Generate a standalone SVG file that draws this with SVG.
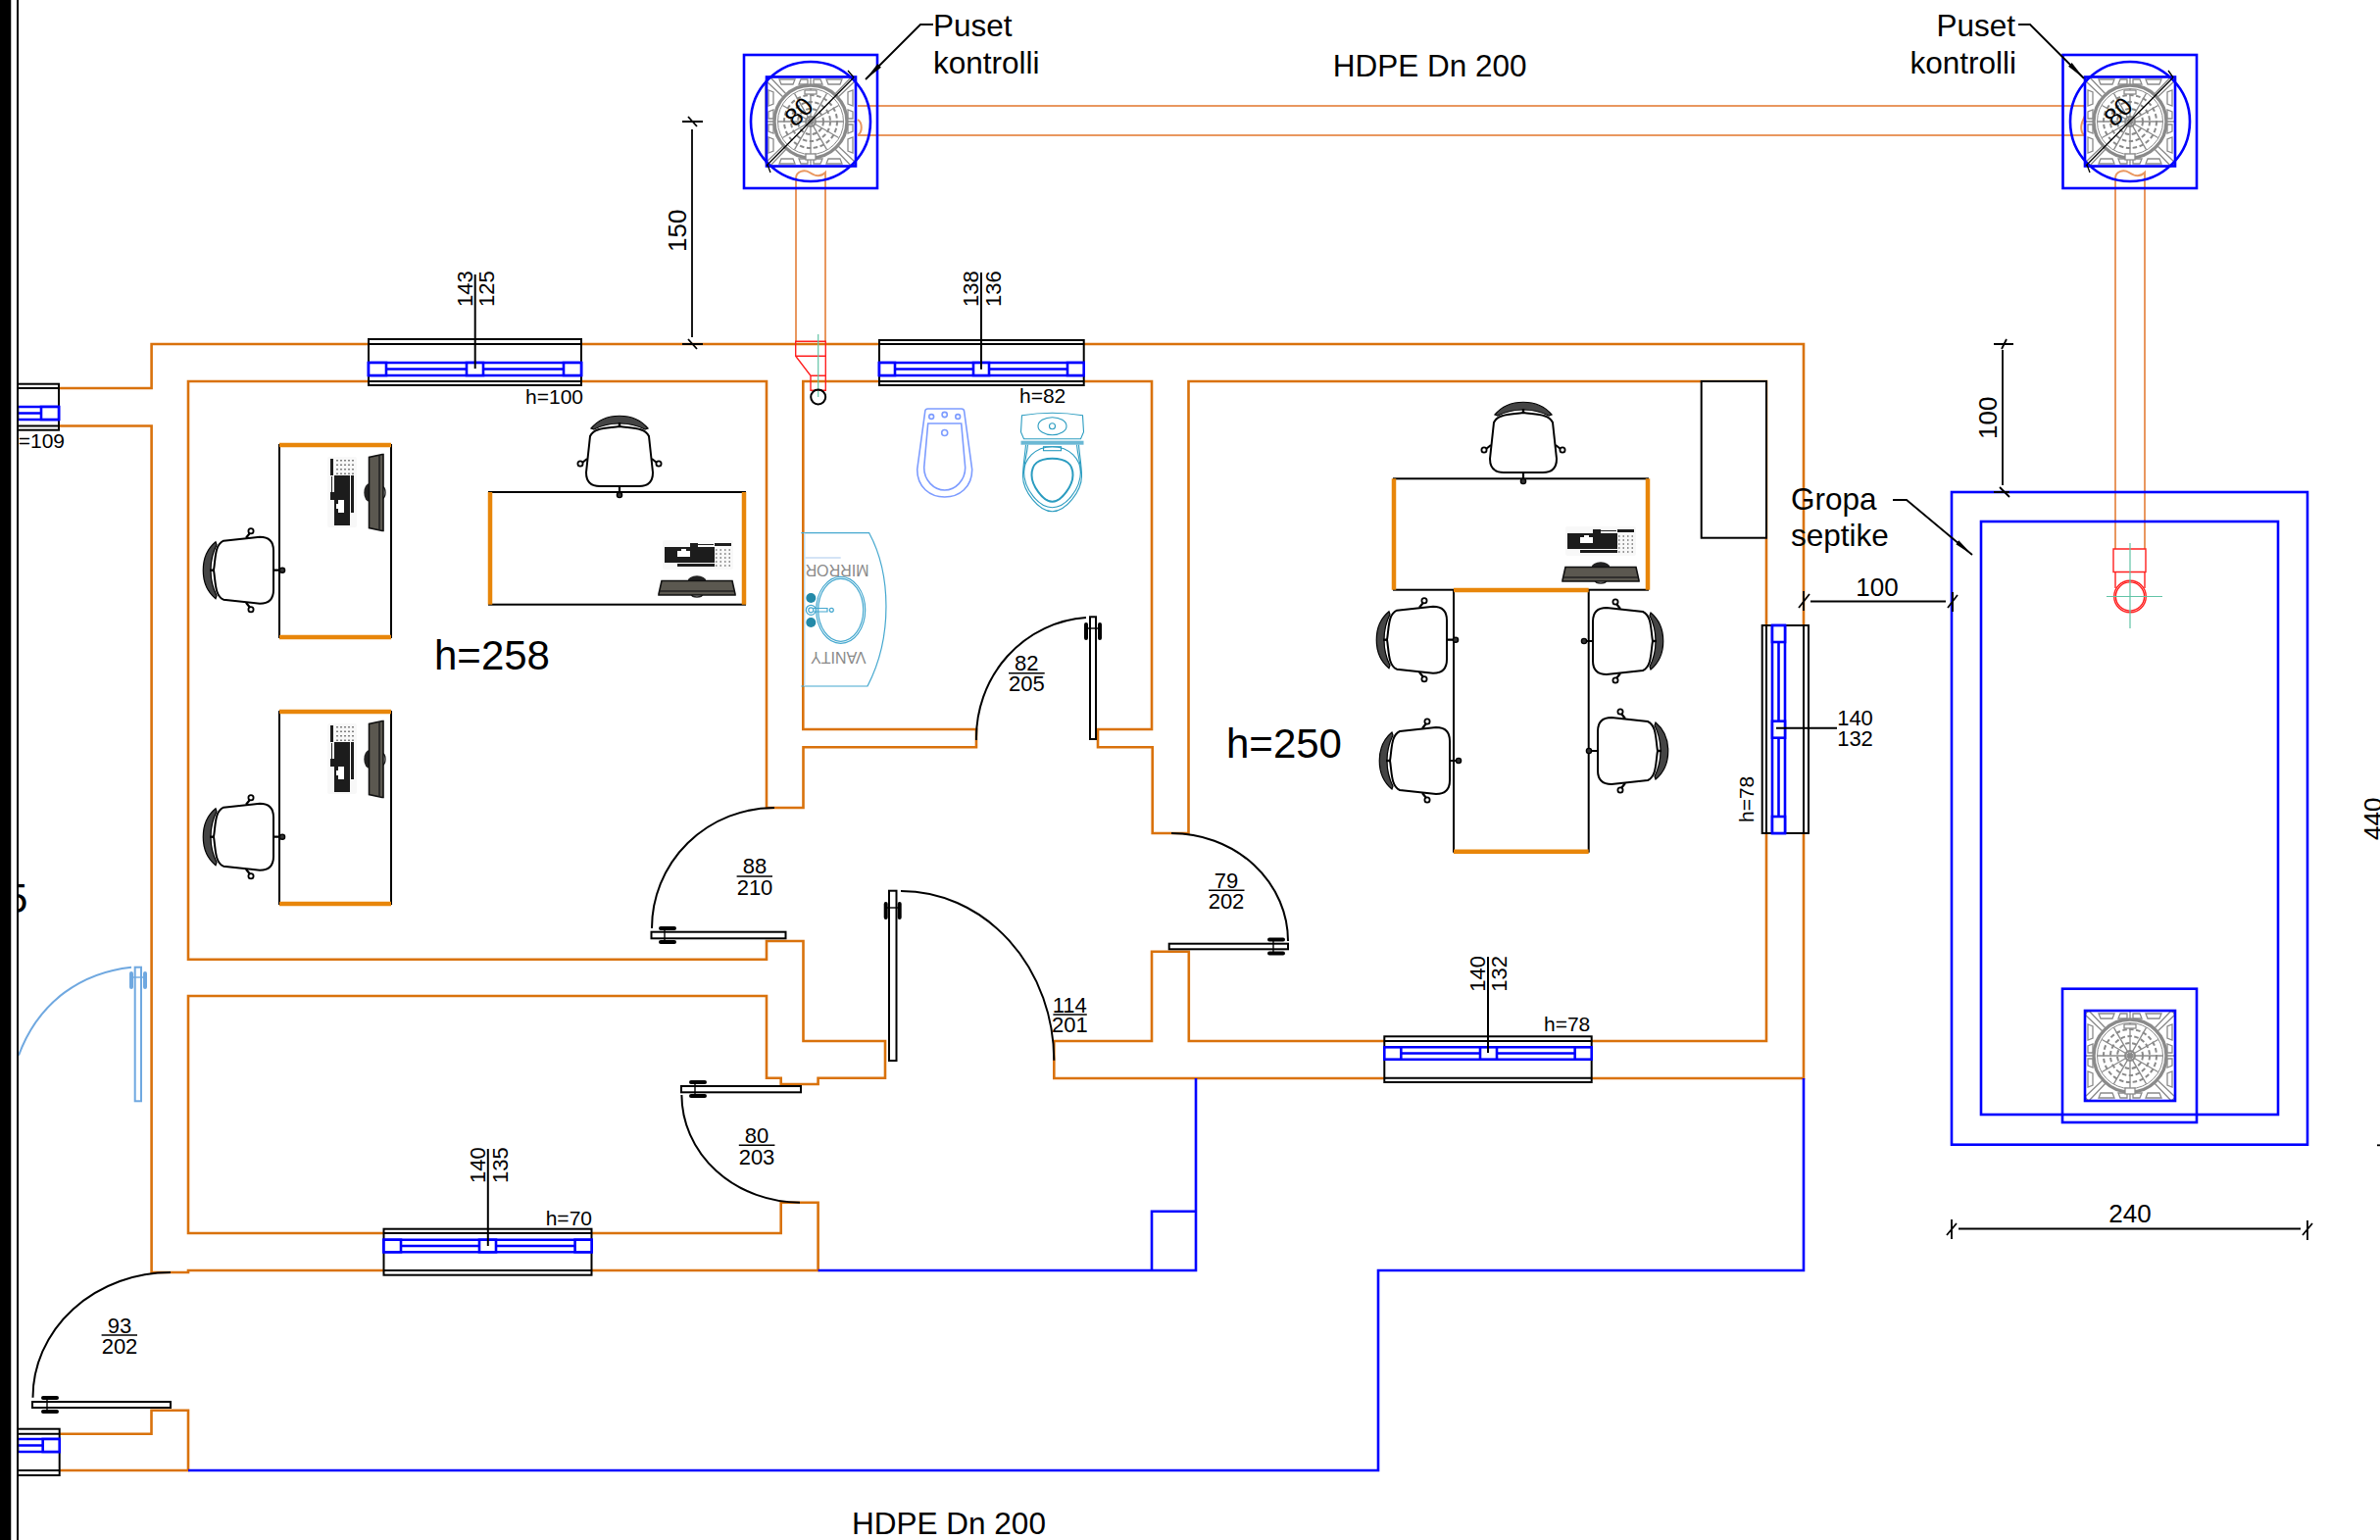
<svg xmlns="http://www.w3.org/2000/svg" width="2428" height="1571" viewBox="0 0 2428 1571">
<style>
text{font-family:"Liberation Sans",Arial,sans-serif;fill:#000}
.s21{font-size:21px}.sd{font-size:22px}.s22{font-size:22px;text-anchor:middle}.s26{font-size:26px}.s31{font-size:31.5px}.s41{font-size:42px}
.wall{fill:none;stroke:#d9720c;stroke-width:2.6}
.bl{fill:none;stroke:#0000ff;stroke-width:2.6}
.blf{fill:#fff;stroke:#0000ff;stroke-width:2.6}
.blk{fill:none;stroke:#000;stroke-width:2}
.frame{fill:#fff;stroke:#000;stroke-width:2}
.pipe{fill:none;stroke:#e9975f;stroke-width:2}
.red{fill:none;stroke:#ff2020;stroke-width:1.4}
.grn{fill:none;stroke:#62c4a6;stroke-width:1.2}
.desk{fill:#fff;stroke:#000;stroke-width:2}
.edge{fill:none;stroke:#e8860a;stroke-width:4.5}
.leaf{fill:#fff;stroke:#000;stroke-width:2}
.frac{fill:none;stroke:#000;stroke-width:1.6}
.dim{fill:none;stroke:#000;stroke-width:1.8}
.diag{fill:none;stroke:#000;stroke-width:1.3}
.bidet{fill:none;stroke:#7d9cff;stroke-width:1.6}
.wc{fill:none;stroke:#2b9cc0;stroke-width:1.1}
.van{fill:none;stroke:#45a8cf;stroke-width:1.2}
.mg{fill:none;stroke:#8a8a8a}
</style>
<defs>
<marker id="arr" markerUnits="userSpaceOnUse" markerWidth="20" markerHeight="8" refX="20" refY="4" orient="auto"><path d="M0,1.5L20,4L0,6.5Z" fill="#000"/></marker>
<g id="chair">
<path d="M-21,-30L16,-34Q30,-34 30,-20L30,20Q30,34 16,34L-21,30C-30,26 -29,12 -31,0C-29,-12 -30,-26 -21,-30Z" fill="#fff" stroke="#000" stroke-width="2"/>
<path d="M-29,-29C-46,-15 -46,15 -29,29L-28,26C-36,10 -36,-10 -28,-26Z" fill="#444" stroke="#000" stroke-width="1.2"/>
<path d="M-31,0H-35" stroke="#000" stroke-width="2.4"/>
<path d="M2,-33L6,-38M2,33L6,38M30,0H37" stroke="#000" stroke-width="2.2" fill="none"/>
<circle cx="7" cy="-40" r="2.6" fill="#fff" stroke="#000" stroke-width="1.8"/>
<circle cx="7" cy="40" r="2.6" fill="#fff" stroke="#000" stroke-width="1.8"/>
<circle cx="39" cy="0" r="2.6" fill="#333" stroke="#000" stroke-width="1.4"/>
</g>
<g id="keyb">
<rect x="-36" y="-15" width="72" height="30" rx="2" fill="#f8f8f8"/>
<rect x="-34" y="-8" width="51" height="16" fill="#1c1c1c"/>
<rect x="-21" y="-4" width="13" height="6" fill="#fff"/>
<rect x="-17" y="-6" width="5" height="3" fill="#fff"/>
<rect x="-8" y="-12" width="8" height="4" fill="#1c1c1c"/>
<path d="M0,-10.5H16" stroke="#222" stroke-width="1"/>
<rect x="-21" y="9" width="38" height="3" fill="#1c1c1c"/>
<rect x="17" y="-12" width="17" height="3" fill="#1c1c1c"/>
<path d="M18,-5H34M18,-1H34M18,3H34M18,7H34M18,11H34" stroke="#333" stroke-width="1.2" stroke-dasharray="1.5 3" fill="none"/>
</g>
<g id="monitor">
<ellipse cx="0" cy="-5" rx="9.5" ry="5.7" fill="#222"/>
<path d="M-6,8C-5,12 5,12 6,8" fill="none" stroke="#222" stroke-width="1.4"/>
<path d="M-39,8L-36,-5.5H36L39,8V9H-39Z" fill="#5b5850" stroke="#111" stroke-width="1.6"/>
<path d="M-38,5H38" stroke="#222" stroke-width="1.6"/>
</g>
<g id="hinge">
<path d="M-7,1V15M7,1V15" fill="none" stroke-width="4" stroke-linecap="round"/>
<path d="M-7,5H7" fill="none" stroke-width="1.4"/>
</g>
<g id="cover">
<rect x="-46" y="-46" width="92" height="92" rx="6" fill="#fff" stroke="#8a8a8a" stroke-width="1.6"/>
<g class="mg" stroke-width="1.3">
<path d="M-46,-42L-27,-24M-42,-46L-24,-27M46,-42L27,-24M42,-46L24,-27M-46,42L-27,24M-42,46L-24,27M46,42L27,24M42,46L24,27"/>
<path d="M0,-46V46M-46,0H46"/>
<path d="M-32,-43H-16L-18,-38H-30ZM-10,-43H-3V-38H-12ZM3,-43H10L12,-38H3ZM16,-43H32L30,-38H18Z"/>
<path d="M-32,43H-16L-18,38H-30ZM-10,43H-3V38H-12ZM3,43H10L12,38H3ZM16,43H32L30,38H18Z"/>
<path d="M-43,-32V-16L-38,-18V-30ZM-43,-10V-3H-38V-12ZM-43,3V10L-38,12V3ZM-43,16V32L-38,30V18Z"/>
<path d="M43,-32V-16L38,-18V-30ZM43,-10V-3H38V-12ZM43,3V10L38,12V3ZM43,16V32L38,30V18Z"/>
</g>
<circle r="37" fill="#fff" stroke="#8a8a8a" stroke-width="3.4"/>
<circle r="33.5" fill="none" stroke="#8a8a8a" stroke-width="1"/>
<g class="mg" stroke-width="2" stroke-dasharray="4.5 2.5">
<circle r="27"/><circle r="20"/><circle r="13"/>
</g>
<g class="mg" stroke-width="1.3">
<path d="M0,-33V33M-33,0H33M-16.5,-28.6L16.5,28.6M16.5,-28.6L-16.5,28.6M-28.6,-16.5L28.6,16.5M28.6,-16.5L-28.6,16.5"/>
<circle r="5" stroke-width="2"/>
<rect x="-6" y="-32" width="12" height="4" fill="#fff"/>
<rect x="-5" y="33" width="10" height="6" fill="#fff"/>
</g>
</g>
</defs>
<rect width="2428" height="1571" fill="#fff"/>

<text id="clipped-5" x="5" y="931" style="font-size:42px">5</text>

<g id="walls">
<path class="wall" d="M60,396H154.6V351H1840V1100H1075.3V1062H1175V970.7H1212.8V1062H1802V389H1212.5V850H1175.7V762.3H1120V744H1175V389H819.3V744H996V762.3H819.5V824H782V389H192V978.7H782V960H819.5V1062H903V1099.7H834.6V1106H796.7V1099.7H782V1016H192V1258H796.7V1226.7H834.6V1296H192V1298H154.6V434.5H60"/>
<path class="wall" d="M60,1462.7H154.5V1438.7H192V1500H60"/>
<path class="bl" d="M192,1500H1406V1296H1840V1100M834.6,1296H1220V1100M1175,1296V1235.7H1220"/>
</g>

<g id="pipes">
<path class="pipe" d="M875,108H2126M875,138H2126M812,182V348M842,182V348M2158,182V560M2188,182V560"/>
<path class="pipe" d="M875,122C880,125 880,135 875,138M812,182C812,174 821,173 826,176C832,180 838,180 842,176V182M2158,182C2158,174 2167,173 2172,176C2178,180 2184,180 2188,176V182M2126,108C2130,115 2126,120 2124,125C2122,132 2124,138 2128,138C2130,136 2128,128 2126,125"/>
<path class="red" d="M811.7,348.3H842.3V398.3H827V383.3L811.7,363.3ZM811.7,363.3H842.3M827,383.3H842.3"/>
<path class="grn" d="M834.7,341V405"/>
<circle cx="834.7" cy="405" r="7.5" fill="none" stroke="#000" stroke-width="2"/>
<path class="red" d="M2156,560H2189V583.5H2156ZM2158,583.5V600M2188,583.5V600"/>
<circle class="red" cx="2173" cy="608.5" r="16.3"/>
<circle class="red" cx="2173" cy="608.5" r="14.6"/>
<path class="grn" d="M2173,554V641M2149,608.5H2206"/>
</g>

<g id="manhole-1">
<rect class="bl" x="759" y="56" width="136" height="136"/>
<use href="#cover" transform="translate(827,124)"/>
<rect class="bl" x="782" y="78.5" width="91" height="91"/>
<circle class="bl" cx="827" cy="124" r="61"/>
<path class="diag" d="M782,169L871,79M865,72L871,79M783,168L786,176"/>
<text class="s26" text-anchor="middle" transform="translate(815,114) rotate(-45)" y="9">80</text>
</g>
<g id="manhole-2">
<rect class="bl" x="2104.5" y="56" width="136.5" height="136"/>
<use href="#cover" transform="translate(2173,124)"/>
<rect class="bl" x="2127" y="78.5" width="92" height="91"/>
<circle class="bl" cx="2173" cy="124" r="61"/>
<path class="diag" d="M2128,169L2217,79M2212,72L2217,79M2129,168L2132,176"/>
<text class="s26" text-anchor="middle" transform="translate(2161,114) rotate(-45)" y="9">80</text>
</g>
<g id="septic">
<rect class="bl" x="1991" y="502" width="363" height="665.7"/>
<rect class="bl" x="2021" y="532" width="303" height="605"/>
<rect class="bl" x="2104" y="1008.7" width="137" height="136.3"/>
<use href="#cover" transform="translate(2173,1077)"/>
<rect class="bl" x="2127" y="1031" width="92" height="92"/>
</g>

<g id="desk-a">
<rect class="desk" x="285" y="454" width="114" height="196"/>
<path class="edge" d="M285,454H399M285,650H399"/>
<use href="#keyb" transform="translate(349,502) rotate(-90)"/>
<use href="#monitor" transform="translate(382,502.5) rotate(-90)"/>
<use href="#chair" transform="translate(249,581.7)"/>
</g>
<g id="desk-b">
<rect class="desk" x="285" y="726" width="114" height="196"/>
<path class="edge" d="M285,726H399M285,922H399"/>
<use href="#keyb" transform="translate(349,774) rotate(-90)"/>
<use href="#monitor" transform="translate(382,774.5) rotate(-90)"/>
<use href="#chair" transform="translate(249,853.7)"/>
</g>
<g id="desk-c">
<rect class="desk" x="499" y="502" width="261" height="114.7"/>
<path class="edge" d="M500,502V616.7M759,502V616.7"/>
<use href="#keyb" transform="translate(712,566)"/>
<use href="#monitor" transform="translate(711,598)"/>
<use href="#chair" transform="translate(632,466) rotate(90)"/>
</g>
<g id="desk-t">
<rect class="desk" x="1422" y="488.3" width="259" height="113.4"/>
<path class="edge" d="M1422,488.3V601.7M1681,488.3V601.7"/>
<use href="#keyb" transform="translate(1633,552)"/>
<use href="#monitor" transform="translate(1633,584)"/>
<use href="#chair" transform="translate(1554,452) rotate(90)"/>
</g>
<g id="table">
<rect class="desk" x="1483" y="602" width="137.7" height="266.7"/>
<path class="edge" d="M1483,602H1620.7M1483,868.7H1620.7"/>
<use href="#chair" transform="translate(1446,652.7)"/>
<use href="#chair" transform="translate(1449,776)"/>
<use href="#chair" transform="translate(1655,654) rotate(180)"/>
<use href="#chair" transform="translate(1660,766) rotate(180)"/>
</g>
<rect id="cabinet" class="desk" x="1735.7" y="389" width="66.3" height="159.7"/>

<g id="bidet" transform="translate(963.7,417)">
<path class="bidet" d="M-20,3Q-20,0 -17,0H17Q20,0 20,3L28,62C28,80 15,90 0,90C-15,90 -28,80 -28,62Z"/>
<path class="bidet" d="M-17,15H17L21,60C21,73 11,83 0,83C-11,83 -21,73 -21,60Z"/>
<circle class="bidet" cx="-13.5" cy="8" r="2.4"/><circle class="bidet" cx="0" cy="6" r="2.6"/><circle class="bidet" cx="13.5" cy="8" r="2.4"/>
<circle class="bidet" cx="0" cy="24.5" r="3" stroke-width="2"/>
</g>
<g id="toilet" transform="translate(1073.5,420.7)">
<path class="wc" d="M-31,3Q0,-2 31,3L32,20L29,27H-29L-32,20Z"/>
<ellipse class="wc" cx="0" cy="14" rx="14.5" ry="9"/><circle class="wc" cx="0" cy="14" r="3"/>
<rect x="-32" y="29" width="64" height="4" fill="#6bb8d4"/>
<rect class="wc" x="-9" y="35" width="18" height="4"/>
<path class="wc" d="M-27,33C-28,45 -30,55 -30,65C-30,80 -14,101 0,101C14,101 30,80 30,65C30,55 28,45 27,33"/>
<path class="wc" d="M-25,33C-26,45 -29,52 -29,60C-29,78 -14,97 0,97C14,97 29,78 29,60C29,52 26,45 25,33"/>
<path class="wc" d="M0,35C-18,35 -29,48 -29,62"/>
<path class="wc" d="M0,35C18,35 29,48 29,62"/>
<path d="M0,47C-14,47 -21,52 -21,64C-21,74 -10,91 0,91C10,91 21,74 21,64C21,52 14,47 0,47Z" fill="none" stroke="#2b9cc0" stroke-width="2"/>
</g>
<g id="vanity">
<path class="van" d="M817.3,543.7H886.7C909,585 911,650 885,700H817.3"/>
<path d="M820.7,543.7V700" stroke="#bcd9ea" stroke-width="1.4"/>
<path d="M821.7,569H857.7" stroke="#a9c8ec" stroke-width="1"/>
<text transform="rotate(180 854 576)" x="854" y="576" text-anchor="middle" style="font-size:16px;fill:#8a8a8a">MIRROR</text>
<text transform="rotate(180 855.3 665)" x="855.3" y="665" text-anchor="middle" style="font-size:16px;fill:#8a8a8a">VANITY</text>
<ellipse class="van" cx="857.7" cy="622.3" rx="25" ry="34"/>
<ellipse class="van" cx="857.7" cy="622.3" rx="23" ry="32"/>
<circle cx="827.3" cy="610" r="5" fill="#2389a8"/><circle cx="827.3" cy="635" r="5" fill="#2389a8"/>
<circle class="van" cx="827.3" cy="622.3" r="5"/><circle class="van" cx="827.3" cy="622.3" r="2.5"/>
<path class="van" d="M830,620.5H844V624H830"/><circle class="van" cx="848.3" cy="622.3" r="2"/>
</g>

<g id="door-82">
<path class="blk" d="M996,755A120,123 0 0 1 1108,630"/>
<rect class="leaf" x="1112" y="629.3" width="6" height="124.7"/>
<use href="#hinge" stroke="#000" transform="translate(1115,636)"/>
<text class="s22" x="1047.3" y="684">82</text><path class="frac" d="M1029,686.7H1065.7"/><text class="s22" x="1047.3" y="705.3">205</text>
</g>
<g id="door-88">
<path class="blk" d="M665,947A125,123 0 0 1 790,824"/>
<rect class="leaf" x="664.5" y="950.7" width="137" height="6.6"/>
<use href="#hinge" stroke="#000" transform="translate(673,954) rotate(-90)"/>
<text class="s22" x="770" y="891.3">88</text><path class="frac" d="M751.6,894H788"/><text class="s22" x="770" y="913.3">210</text>
</g>
<g id="door-114">
<path class="blk" d="M919,909A156,173 0 0 1 1075.3,1081.7"/>
<rect class="leaf" x="907" y="908.7" width="7.5" height="173.3"/>
<use href="#hinge" stroke="#000" transform="translate(910.7,921)"/>
<text class="s22" x="1091.3" y="1032.7">114</text><path class="frac" d="M1074.4,1035H1108.8"/><text class="s22" x="1091.3" y="1053.3">201</text>
</g>
<g id="door-79">
<path class="blk" d="M1195,850A119,110 0 0 1 1314,960"/>
<rect class="leaf" x="1192.7" y="962.7" width="121.3" height="5.6"/>
<use href="#hinge" stroke="#000" transform="translate(1294,965.5) rotate(-90)"/>
<text class="s22" x="1251" y="906">79</text><path class="frac" d="M1233,908.3H1269.5"/><text class="s22" x="1251" y="926.7">202</text>
</g>
<g id="door-80">
<path class="blk" d="M695.4,1117A121,110 0 0 0 816,1226.7"/>
<rect class="leaf" x="695" y="1108" width="122" height="6.3"/>
<use href="#hinge" stroke="#000" transform="translate(704,1111) rotate(-90)"/>
<text class="s22" x="772" y="1166">80</text><path class="frac" d="M753.8,1168.3H790.4"/><text class="s22" x="772" y="1188.3">203</text>
</g>
<g id="door-93">
<path class="blk" d="M33.5,1425.7A140.5,127.7 0 0 1 174,1298"/>
<rect class="leaf" x="33" y="1430" width="141" height="6"/>
<use href="#hinge" stroke="#000" transform="translate(43,1433) rotate(-90)"/>
<text class="s22" x="122" y="1360">93</text><path class="frac" d="M103.6,1362H140"/><text class="s22" x="122" y="1380.7">202</text>
</g>
<g id="door-left">
<path d="M134,986.7C85,992 40,1020 19,1076.7" fill="none" stroke="#6fa8e0" stroke-width="2"/>
<rect x="137.7" y="986.7" width="6.3" height="136.6" fill="#fff" stroke="#6fa8e0" stroke-width="2"/>
<use href="#hinge" stroke="#6fa8e0" transform="translate(141,992)"/>
</g>

<g id="window-1">
<rect class="frame" x="376" y="346" width="217" height="47"/>
<path class="blk" d="M376,351H593M376,389H593"/>
<path class="bl" d="M376,370H593V383H376ZM376,376.5H593"/>
<rect class="blf" x="376" y="370" width="18" height="13"/><rect class="blf" x="476" y="370" width="17" height="13"/><rect class="blf" x="575" y="370" width="18" height="13"/>
<path class="blk" d="M484.7,280V376"/>
<text class="sd" transform="rotate(-90 481.7 313)" x="481.7" y="313">143</text>
<text class="sd" transform="rotate(-90 504.4 313)" x="504.4" y="313">125</text>
<text class="s21" x="595" y="412" text-anchor="end">h=100</text>
</g>
<g id="window-2">
<rect class="frame" x="897" y="347" width="208.7" height="46"/>
<path class="blk" d="M897,351H1105.7M897,389H1105.7"/>
<path class="bl" d="M897,370H1105.7V383H897ZM897,376.5H1105.7"/>
<rect class="blf" x="897" y="370" width="16" height="13"/><rect class="blf" x="993" y="370" width="16" height="13"/><rect class="blf" x="1089" y="370" width="16.7" height="13"/>
<path class="blk" d="M1001,278V376.7"/>
<text class="sd" transform="rotate(-90 998 313)" x="998" y="313">138</text>
<text class="sd" transform="rotate(-90 1020.7 313)" x="1020.7" y="313">136</text>
<text class="s21" x="1040" y="411.3">h=82</text>
</g>
<g id="window-3">
<rect class="frame" x="1412.3" y="1057.3" width="211.4" height="46.7"/>
<path class="blk" d="M1412.3,1062H1623.7M1412.3,1099.7H1623.7"/>
<path class="bl" d="M1412.3,1068.3H1623.7V1080.7H1412.3ZM1412.3,1074.5H1623.7"/>
<rect class="blf" x="1412.3" y="1068.3" width="17" height="12.4"/><rect class="blf" x="1510" y="1068.3" width="17" height="12.4"/><rect class="blf" x="1606.7" y="1068.3" width="17" height="12.4"/>
<path class="blk" d="M1518,976V1074"/>
<text class="sd" transform="rotate(-90 1515 1011.7)" x="1515" y="1011.7">140</text>
<text class="sd" transform="rotate(-90 1537.3 1011.7)" x="1537.3" y="1011.7">132</text>
<text class="s21" x="1575" y="1052.3">h=78</text>
</g>
<g id="window-4">
<rect class="frame" x="391.5" y="1253.7" width="212" height="47"/>
<path class="blk" d="M391.5,1258H603.5M391.5,1296H603.5"/>
<path class="bl" d="M391.5,1264.7H603.5V1277.3H391.5ZM391.5,1271H603.5"/>
<rect class="blf" x="391.5" y="1264.7" width="17.5" height="12.6"/><rect class="blf" x="489" y="1264.7" width="17" height="12.6"/><rect class="blf" x="586.6" y="1264.7" width="17" height="12.6"/>
<path class="blk" d="M497.8,1172V1271"/>
<text class="sd" transform="rotate(-90 494.8 1207)" x="494.8" y="1207">140</text>
<text class="sd" transform="rotate(-90 517.5 1207)" x="517.5" y="1207">135</text>
<text class="s21" x="604" y="1250" text-anchor="end">h=70</text>
</g>
<g id="window-5">
<rect class="frame" x="1797.7" y="638" width="47.3" height="212"/>
<path class="blk" d="M1802,638V850M1840,638V850"/>
<path class="bl" d="M1808,638H1821V850H1808ZM1814.5,638V850"/>
<rect class="blf" x="1808" y="638" width="13" height="17"/><rect class="blf" x="1808" y="735.7" width="13" height="17"/><rect class="blf" x="1808" y="833" width="13" height="17"/>
<path class="blk" d="M1812,742.7H1874"/>
<text class="sd" x="1892.5" y="740" text-anchor="middle">140</text>
<text class="sd" x="1892.5" y="761" text-anchor="middle">132</text>
<text class="s21" transform="rotate(-90 1789.3 839)" x="1789.3" y="839">h=78</text>
</g>
<g id="window-left-top">
<rect class="frame" x="18" y="391.7" width="42" height="47"/>
<path class="blk" d="M18,396H60M18,434.5H60"/>
<path class="bl" d="M18,415H60V428H18ZM18,421.5H42"/>
<rect class="blf" x="42" y="415" width="18" height="13"/>
<text class="s21" x="66" y="456.5" text-anchor="end">=109</text>
</g>
<g id="window-left-bottom">
<rect class="frame" x="18" y="1457.7" width="42.7" height="47.3"/>
<path class="blk" d="M18,1462.7H60.7M18,1500H60.7"/>
<path class="bl" d="M18,1468H60.7V1481H18ZM18,1474.5H44"/>
<rect class="blf" x="43.7" y="1468" width="17" height="13"/>
</g>

<g id="connectors">
<path class="dim" d="M952,25H939L883,81" marker-end="url(#arr)"/>
<path class="dim" d="M2059,25H2071L2126,80" marker-end="url(#arr)"/>
<path class="dim" d="M1931,510H1945L2012,566" marker-end="url(#arr)"/>
<path class="dim" d="M706,132V344M696,124H717M702,119L711,129M696,351H717M702,346L711,356"/>
<path class="dim" d="M2043,357V495M2034,351H2054M2042,356L2047,346M2034,502H2050M2040,497L2050,507"/>
<path class="dim" d="M1847,613.5H1985M1840,603V623M1835,620L1846,606M1992,604V624M1987,620L1997,607"/>
<path class="dim" d="M1998,1253.5H2347M1991,1244V1264M1986,1260L1996,1248M2354,1245V1265M2349,1260L2359,1248"/>
<path class="dim" d="M2425,1168.3H2428"/>
</g>

<g id="labels">
<text class="s31" x="952" y="36.7">Puset</text>
<text class="s31" x="952" y="75">kontrolli</text>
<text class="s31" x="2056" y="36.6" text-anchor="end">Puset</text>
<text class="s31" x="2057" y="74.5" text-anchor="end">kontrolli</text>
<text class="s31" x="1458.7" y="78" text-anchor="middle">HDPE Dn 200</text>
<text class="s31" x="968" y="1565" text-anchor="middle">HDPE Dn 200</text>
<text class="s31" x="1827" y="520">Gropa</text>
<text class="s31" x="1827" y="557">septike</text>
<text class="s41" x="443" y="683">h=258</text>
<text class="s41" x="1251" y="773">h=250</text>
<text class="s26" transform="rotate(-90 700 257)" x="700" y="257">150</text>
<text class="s26" transform="rotate(-90 2037 448)" x="2037" y="448">100</text>
<text class="s26" x="1915" y="608" text-anchor="middle">100</text>
<text class="s26" x="2173" y="1247" text-anchor="middle">240</text>
<text class="s26" transform="rotate(-90 2430 857)" x="2430" y="857">440</text>
</g>

<g id="sheet-edge">
<rect x="0" y="0" width="17" height="1571" fill="#fff"/>
<rect x="0" y="0" width="11" height="1571" fill="#000"/>
<rect x="11" y="0" width="1" height="1571" fill="#bbb"/>
<path d="M18,0V1571" stroke="#000" stroke-width="2"/>
</g>
</svg>
